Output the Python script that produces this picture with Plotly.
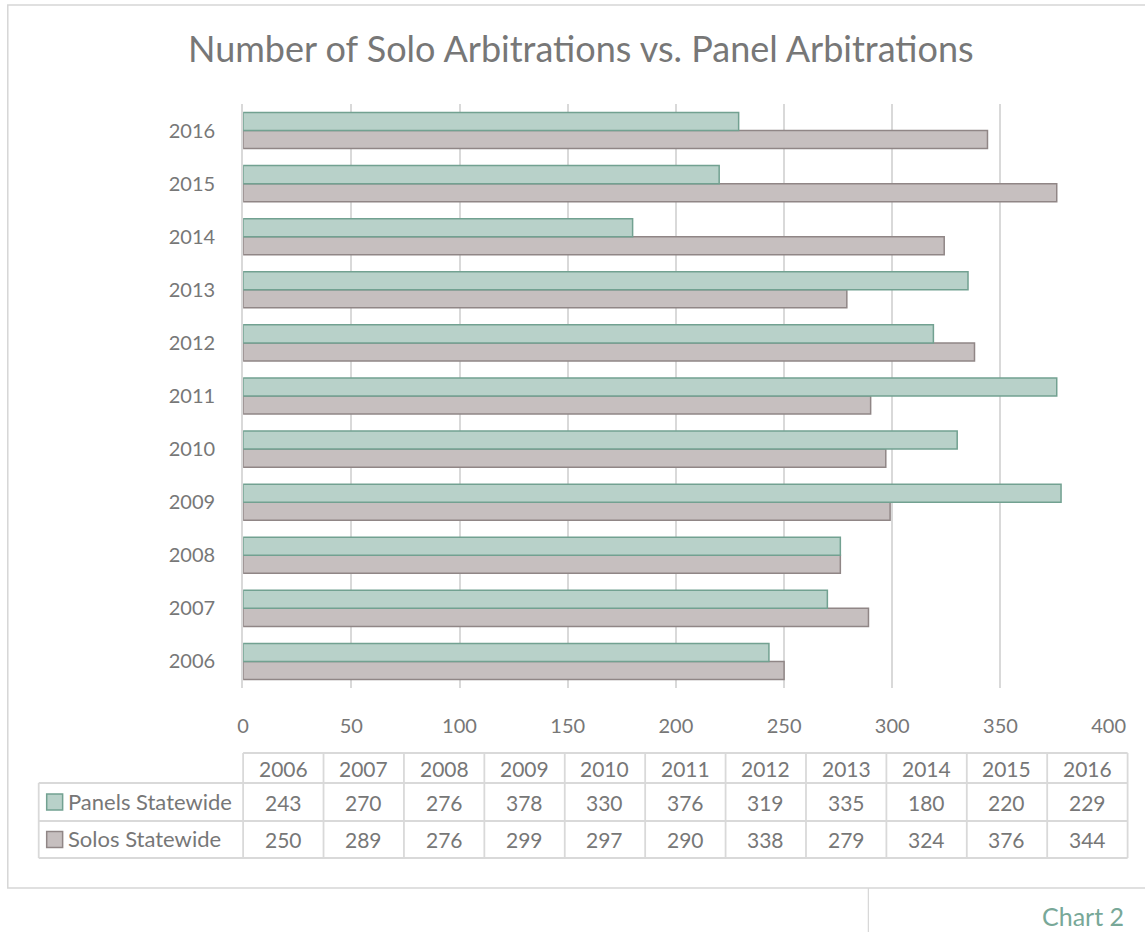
import plotly.graph_objects as go

years = ["2006", "2007", "2008", "2009", "2010", "2011", "2012", "2013", "2014", "2015", "2016"]
panels = [243, 270, 276, 378, 330, 376, 319, 335, 180, 220, 229]
solos = [250, 289, 276, 299, 297, 290, 338, 279, 324, 376, 344]
series_names = ["Panels Statewide", "Solos Statewide"]
title_text = "Number of Solo Arbitrations vs. Panel Arbitrations"
x_ticks = [0, 50, 100, 150, 200, 250, 300, 350, 400]

W, H = 1145, 932
FONT = "Lato, 'Open Sans', sans-serif"
TXT = "#777777"
GRID = "#d9d9d9"
PANEL_FILL = "#b8d1c9"
PANEL_LINE = "#72a191"
SOLO_FILL = "#c6bfbf"
SOLO_LINE = "#908686"

# horizontal correction for how the page is captured
SX, BX = 0.9827, 4.2


def px(x):
    return ((x - BX) / SX) / W


def py(y):
    return 1 - y / H


fig = go.Figure()
fig.add_trace(go.Bar(
    y=years, x=solos, orientation="h", name=series_names[1],
    marker=dict(color=SOLO_FILL, line=dict(color=SOLO_LINE, width=1.5)),
))
fig.add_trace(go.Bar(
    y=years, x=panels, orientation="h", name=series_names[0],
    marker=dict(color=PANEL_FILL, line=dict(color=PANEL_LINE, width=1.5)),
))

plot_l, plot_r, plot_t, plot_b = 242, 1110, 104, 688

fig.update_layout(
    width=W, height=H,
    margin=dict(l=0, r=0, t=0, b=0),
    paper_bgcolor="white", plot_bgcolor="white",
    barmode="group", bargap=0.32, bargroupgap=0,
    showlegend=False,
    font=dict(family=FONT, color=TXT),
    xaxis=dict(
        domain=[px(plot_l), px(plot_r)], range=[0, 400],
        tickvals=x_ticks, showgrid=True, gridcolor=GRID, gridwidth=2,
        zeroline=False, showline=False,
        ticks="outside", ticklen=20, tickcolor="rgba(0,0,0,0)",
        tickfont=dict(size=20, color=TXT, family=FONT),
    ),
    yaxis=dict(
        domain=[py(plot_b), py(plot_t)], type="category",
        categoryorder="array", categoryarray=years, range=[-0.5, 10.5],
        showgrid=False, zeroline=False,
        showline=True, linecolor=GRID, linewidth=2,
        ticks="outside", ticklen=22, tickcolor="rgba(0,0,0,0)",
        tickfont=dict(size=20, color=TXT, family=FONT),
    ),
)

shapes = []
annotations = []

# Outer frame
shapes.append(dict(type="rect", xref="paper", yref="paper",
                   x0=px(6), x1=px(1190), y0=py(888), y1=py(5),
                   line=dict(color="#d6d6d6", width=1.5), fillcolor="rgba(0,0,0,0)", layer="below"))
shapes.append(dict(type="line", xref="paper", yref="paper",
                   x0=px(869), x1=px(869), y0=py(888), y1=py(950),
                   line=dict(color="#d6d6d6", width=1.2)))

# Title
annotations.append(dict(text=title_text, xref="paper", yref="paper",
                        x=px(581), y=py(48), xanchor="center", yanchor="middle",
                        showarrow=False, font=dict(size=36, color=TXT, family=FONT)))

# Data table
col_l = 242
col_w = (1129 - 242) / len(years)
leg_l = 37
row_y = [753, 783, 821, 858]
tbl_line = dict(color="#d9d9d9", width=1.8)
tbl_r = col_l + col_w * len(years)

shapes.append(dict(type="line", xref="paper", yref="paper", x0=px(col_l), x1=px(tbl_r),
                   y0=py(row_y[0]), y1=py(row_y[0]), line=tbl_line))
for yy in row_y[1:]:
    shapes.append(dict(type="line", xref="paper", yref="paper", x0=px(leg_l), x1=px(tbl_r),
                       y0=py(yy), y1=py(yy), line=tbl_line))
shapes.append(dict(type="line", xref="paper", yref="paper", x0=px(leg_l), x1=px(leg_l),
                   y0=py(row_y[1]), y1=py(row_y[3]), line=tbl_line))
for i in range(len(years) + 1):
    xx = col_l + col_w * i
    shapes.append(dict(type="line", xref="paper", yref="paper", x0=px(xx), x1=px(xx),
                       y0=py(row_y[0]), y1=py(row_y[3]), line=tbl_line))

rows = [years, panels, solos]
for r, vals in enumerate(rows):
    yc = (row_y[r] + row_y[r + 1]) / 2
    for i, v in enumerate(vals):
        annotations.append(dict(text=str(v), xref="paper", yref="paper",
                                x=px(col_l + col_w * (i + 0.5)), y=py(yc),
                                xanchor="center", yanchor="middle", showarrow=False,
                                font=dict(size=21, color=TXT, family=FONT)))

for r, (name, fc, lc) in enumerate([(series_names[0], PANEL_FILL, PANEL_LINE),
                                    (series_names[1], SOLO_FILL, SOLO_LINE)]):
    yc = (row_y[r + 1] + row_y[r + 2]) / 2
    shapes.append(dict(type="rect", xref="paper", yref="paper",
                       x0=px(45), x1=px(61), y0=py(yc + 8), y1=py(yc - 8),
                       fillcolor=fc, line=dict(color=lc, width=1.5)))
    annotations.append(dict(text=name, xref="paper", yref="paper",
                            x=px(64), y=py(yc - 1), xanchor="left", yanchor="middle",
                            showarrow=False, font=dict(size=22, color=TXT, family=FONT)))

# Caption
annotations.append(dict(text="Chart 2", xref="paper", yref="paper",
                        x=min(px(1138), 0.998), y=py(916), xanchor="right", yanchor="middle",
                        showarrow=False, font=dict(size=25, color="#78a898", family=FONT)))

fig.update_layout(shapes=shapes, annotations=annotations)

post = ("document.documentElement.style.margin='0';"
        "document.documentElement.style.overflow='hidden';"
        "document.body.style.margin='0';"
        "document.body.style.padding='0';"
        "document.body.style.overflow='hidden';")
fig.write_html("out.html", config={"responsive": False, "displayModeBar": False}, post_script=post)
